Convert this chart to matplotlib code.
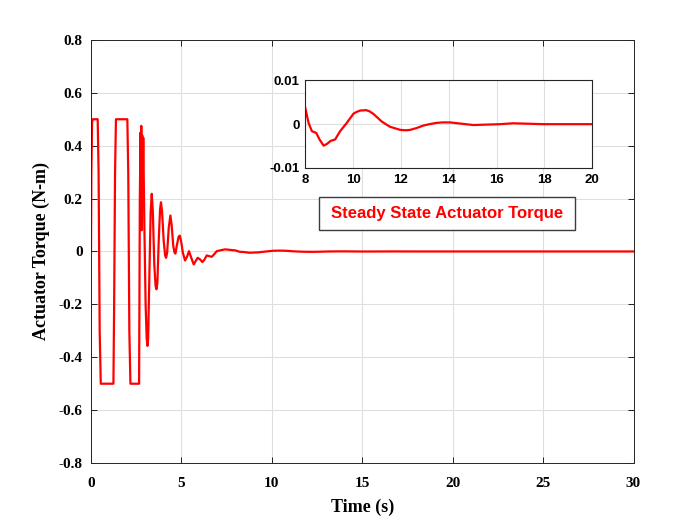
import matplotlib

matplotlib.use("Agg")

import matplotlib.pyplot as plt
from matplotlib.patches import Rectangle

plt.rcParams["axes.unicode_minus"] = False

# Actuator torque (t in s, torque in N-m)
time_s = [
    0.0, 0.02, 0.06, 0.1, 0.37, 0.42, 0.48, 0.54, 1.24, 1.28, 1.33, 1.38,
    2.01, 2.06, 2.12, 2.18, 2.66, 2.70, 2.74, 2.76, 2.78, 2.80, 2.83, 2.86,
    2.89, 2.95, 3.02, 3.08, 3.12, 3.16, 3.24, 3.30, 3.36, 3.42, 3.50, 3.57,
    3.62, 3.67, 3.75, 3.82, 3.87, 3.93, 4.02, 4.10, 4.15, 4.21, 4.30, 4.39,
    4.46, 4.55, 4.62, 4.67, 4.74, 4.84, 4.91, 4.98, 5.08, 5.20, 5.31, 5.42,
    5.55, 5.68, 5.80, 5.90, 6.03, 6.16, 6.28, 6.40, 6.55, 6.68, 6.82, 6.95,
    7.20, 7.42, 7.70,
    8.0, 8.14, 8.28, 8.46, 8.6, 8.77, 8.91, 9.07, 9.25, 9.46, 9.74, 10.02,
    10.15, 10.3, 10.55, 10.7, 10.86, 11.2, 11.4, 11.55, 11.97, 12.2, 12.39,
    12.65, 12.95, 13.2, 13.5, 13.75, 14.06, 15.03,
    16.15, 16.7, 17.95, 20.0, 25.0, 30.0,
]
torque_nm = [
    0.0, 0.3, 0.49, 0.5, 0.5, 0.3, -0.3, -0.5, -0.5, -0.2, 0.3, 0.5,
    0.5, 0.3, -0.3, -0.5, -0.5, 0.2, 0.45, 0.2, 0.475, 0.08, 0.44, 0.25,
    0.43, 0.1, -0.2, -0.33, -0.357, -0.33, -0.05, 0.15, 0.218, 0.15, -0.05, -0.13,
    -0.143, -0.12, 0.05, 0.16, 0.186, 0.15, 0.04, -0.015, -0.024, -0.005, 0.09, 0.136,
    0.1, 0.02, -0.004, -0.008, 0.02, 0.055, 0.06, 0.04, -0.005, -0.034, -0.02, 0.001,
    -0.025, -0.049, -0.035, -0.024, -0.03, -0.04, -0.03, -0.015, -0.018, -0.02, -0.01, 0.001,
    0.005, 0.008, 0.006,
    0.0038, 0.0003, -0.0016, -0.002, -0.0035, -0.0049, -0.0045, -0.0038, -0.0035, -0.0016, 0.0003, 0.0024,
    0.0028, 0.0031, 0.0032, 0.0029, 0.0023, 0.0006, -0.0001, -0.0006, -0.0013, -0.0014, -0.0013,
    -0.0009, -0.0003, 0.0, 0.0003, 0.0004, 0.0004, -0.0002,
    0.0, 0.0002, 0.0, 0.0, 0.0, 0.0,
]

x_ticks = [0, 5, 10, 15, 20, 25, 30]
y_ticks = [-0.8, -0.6, -0.4, -0.2, 0, 0.2, 0.4, 0.6, 0.8]
y_tick_labels = ["-0.8", "-0.6", "-0.4", "-0.2", "0", "0.2", "0.4", "0.6", "0.8"]
inset_x_ticks = [8, 10, 12, 14, 16, 18, 20]
inset_y_ticks = [-0.01, 0, 0.01]
inset_y_labels = ["-0.01", "0", "0.01"]

SERIF = "Liberation Serif"
SANS = "Liberation Sans"
LINE_RED = "#FF0000"
GRID = "#DFDFDF"

fig = plt.figure(figsize=(7.0, 5.25), dpi=100)
fig.patch.set_facecolor("white")

ax = fig.add_axes([0.13, 0.118, 0.775, 0.806])
ax.plot(time_s, torque_nm, color=LINE_RED, linewidth=1.6)
ax.set_xlim(0, 30)
ax.set_ylim(-0.8, 0.8)
ax.set_xticks(x_ticks)
ax.set_xticklabels([str(t) for t in x_ticks])
ax.set_yticks(y_ticks)
ax.set_yticklabels(y_tick_labels)
ax.grid(True, color=GRID, linewidth=0.8)
ax.set_axisbelow(True)
ax.tick_params(direction="in", top=True, right=True, length=4, width=0.6, pad=6)
ax.tick_params(axis="x", pad=10)
for lbl in ax.get_xticklabels() + ax.get_yticklabels():
    lbl.set_family(SERIF)
    lbl.set_fontweight("bold")
    lbl.set_fontsize(11)
for spine in ax.spines.values():
    spine.set_linewidth(0.7)
    spine.set_color("#262626")
ax.set_xlabel("Time (s)", family=SERIF, fontweight="bold", fontsize=13, labelpad=6)
ax.set_ylabel("Actuator Torque (N-m)", family=SERIF, fontweight="bold", fontsize=13, labelpad=6)

# zoomed view of the steady state
ins = fig.add_axes([0.436, 0.68, 0.41, 0.167])
ins.set_facecolor("white")
ins.plot(time_s, torque_nm, color=LINE_RED, linewidth=1.6)
ins.set_xlim(8, 20)
ins.set_ylim(-0.01, 0.01)
ins.set_xticks(inset_x_ticks)
ins.set_yticks(inset_y_ticks)
ins.set_yticklabels(inset_y_labels)
ins.grid(True, color=GRID, linewidth=0.8)
ins.set_axisbelow(True)
ins.tick_params(direction="in", length=0, pad=4)
for lbl in ins.get_xticklabels() + ins.get_yticklabels():
    lbl.set_family(SANS)
    lbl.set_fontweight("bold")
    lbl.set_fontsize(9.5)
for spine in ins.spines.values():
    spine.set_linewidth(0.8)
    spine.set_color("#262626")

# annotation box
box = Rectangle((0.4557, 0.562), 0.3657, 0.0628, transform=fig.transFigure,
                facecolor="white", edgecolor="#3C3C3C", linewidth=1.0, zorder=5)
fig.add_artist(box)
fig.text(0.6386, 0.5934, "Steady State Actuator Torque", family=SANS,
         fontweight="bold", fontsize=12, color=LINE_RED, ha="center", va="center", zorder=6)

fig.savefig("out.png", dpi=100)
